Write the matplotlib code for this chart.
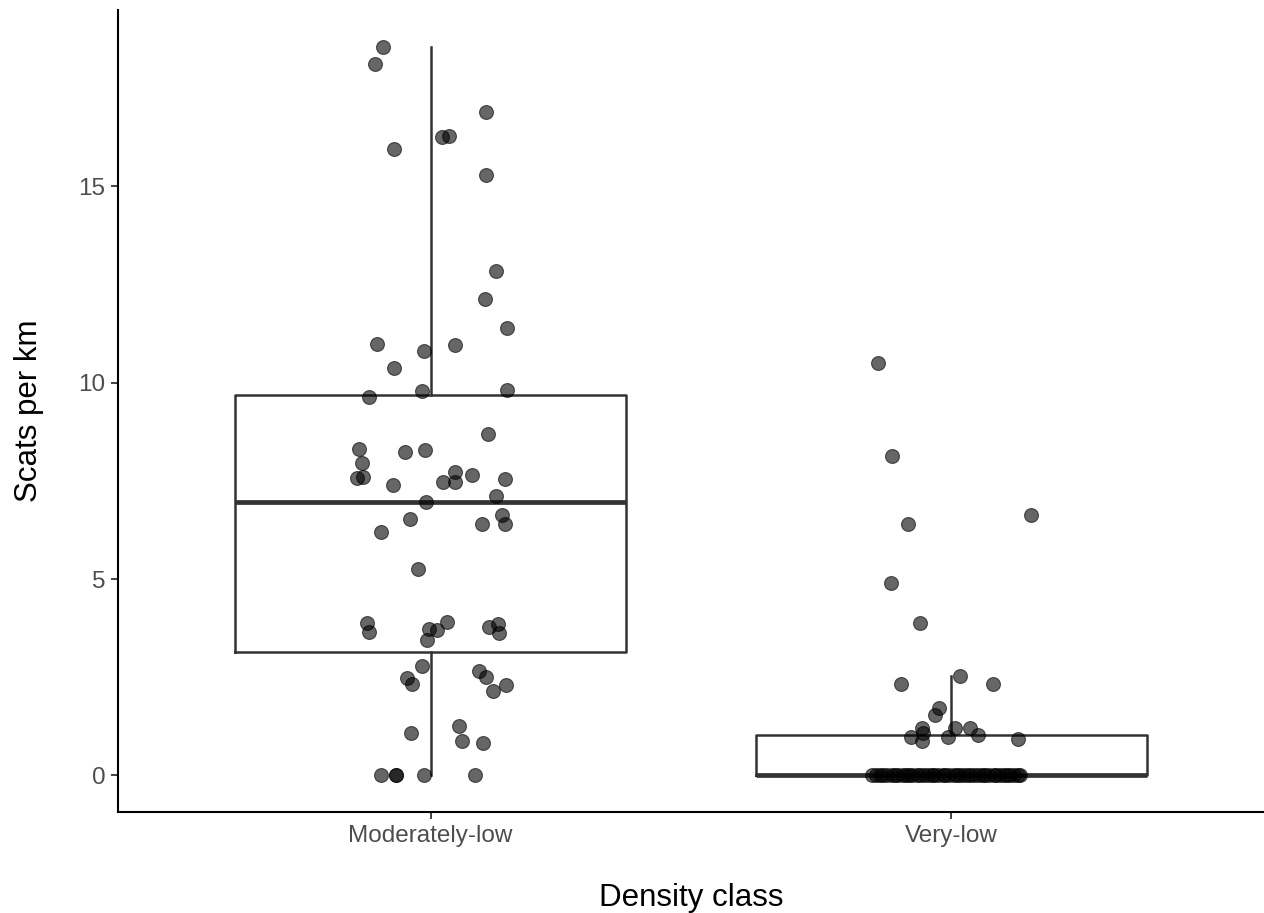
import numpy as np
import matplotlib
matplotlib.use('Agg')
import matplotlib.pyplot as plt

plt.rcParams['font.family'] = ['Liberation Sans', 'DejaVu Sans']

# Categories and box statistics
categories = ['Moderately-low', 'Very-low']
q1      = [3.13, 0.0]
median  = [6.95, 0.0]
q3      = [9.68, 1.02]
whislo  = [0.0, 0.0]
whishi  = [18.54, 2.52]

# Jittered points: value and horizontal jitter offset (category units)
mod_y = [18.54, 18.10, 15.94, 16.25, 16.27, 16.88, 15.28, 12.83, 12.12, 11.38,
         10.98, 10.95, 10.80, 10.36, 9.80, 9.78, 9.63, 8.68, 8.30, 7.95,
         8.28, 8.22, 7.56, 7.60, 7.38, 7.72, 7.64, 7.46, 7.46, 7.54,
         7.10, 6.95, 6.62, 6.39, 6.39, 6.54, 6.19, 5.25, 3.87, 3.64,
         3.72, 3.69, 3.90, 3.44, 3.79, 3.85, 3.62, 2.78, 2.47, 2.34,
         2.65, 2.50, 2.14, 2.29, 1.09, 1.25, 0.87, 0.82, 0.0, 0.0,
         0.0, 0.0, 0.0]
mod_dx = [-0.092, -0.106, -0.071, 0.021, 0.036, 0.106, 0.107, 0.125, 0.104, 0.146,
          -0.102, 0.046, -0.013, -0.071, 0.146, -0.017, -0.119, 0.111, -0.138, -0.132,
          -0.010, -0.050, -0.142, -0.129, -0.073, 0.046, 0.079, 0.046, 0.023, 0.142,
          0.125, -0.008, 0.138, 0.142, 0.098, -0.040, -0.096, -0.025, -0.123, -0.119,
          -0.004, 0.013, 0.031, -0.006, 0.113, 0.129, 0.131, -0.017, -0.046, -0.036,
          0.092, 0.107, 0.119, 0.144, -0.038, 0.054, 0.061, 0.100, -0.096, -0.067,
          -0.067, -0.013, 0.086]

vlow_y = [10.49, 8.12, 6.39, 6.62, 4.91, 3.87, 2.34, 2.52, 2.32, 1.73,
          1.53, 1.22, 1.07, 0.89, 0.97, 1.22, 0.97, 1.20, 1.04, 0.94] + [0.0] * 42
vlow_dx = [-0.142, -0.115, -0.084, 0.152, -0.117, -0.061, -0.096, 0.017, 0.079, -0.023,
           -0.031, -0.056, -0.054, -0.056, -0.077, 0.006, -0.006, 0.035, 0.050, 0.127] + \
          [-0.152, -0.144, -0.138, -0.131, -0.123, -0.115, -0.109, -0.102, -0.094, -0.088,
           -0.081, -0.075, -0.067, -0.060, -0.052, -0.046, -0.038, -0.033, -0.025, -0.017,
           -0.012, -0.004, 0.004, 0.010, 0.017, 0.025, 0.031, 0.038, 0.046, 0.052,
           0.060, 0.065, 0.073, 0.081, 0.086, 0.094, 0.100, 0.107, 0.113, 0.121,
           0.127, 0.132]

fig = plt.figure(figsize=(12.64, 9.13), dpi=100)
ax = fig.add_axes([0.0934, 0.1106, 0.9066, 0.8784])

stats = []
for i in range(len(categories)):
    stats.append(dict(med=median[i], q1=q1[i], q3=q3[i], whislo=whislo[i], whishi=whishi[i], fliers=[]))

line_col = '#333333'
ax.bxp(stats, positions=[1, 2], widths=0.75, showfliers=False, showcaps=False,
       boxprops=dict(color=line_col, linewidth=1.8),
       whiskerprops=dict(color=line_col, linewidth=1.8),
       medianprops=dict(color=line_col, linewidth=3.4, solid_capstyle='butt'),
       zorder=2)

for pos, ys, dxs in [(1, mod_y, mod_dx), (2, vlow_y, vlow_dx)]:
    xs = pos + np.array(dxs)
    ax.scatter(xs, ys, s=100, color='black', alpha=0.6, edgecolors='black', linewidths=0.8, zorder=3)

ax.set_xlim(0.4, 2.6)
ax.set_ylim(-0.93, 19.48)
ax.set_xticks([1, 2])
ax.set_xticklabels(categories)
ax.set_yticks([0, 5, 10, 15])

for side in ['top', 'right']:
    ax.spines[side].set_visible(False)
for side in ['left', 'bottom']:
    ax.spines[side].set_linewidth(1.5)
    ax.spines[side].set_color('black')

ax.tick_params(axis='both', length=5, width=1.3, color='#333333', labelsize=17.5, labelcolor='#4d4d4d', pad=4)
ax.set_xlabel('Density class', fontsize=22.5, labelpad=26)
ax.set_ylabel('Scats per km', fontsize=22.5, labelpad=25)

plt.savefig('out.png', dpi=100)
